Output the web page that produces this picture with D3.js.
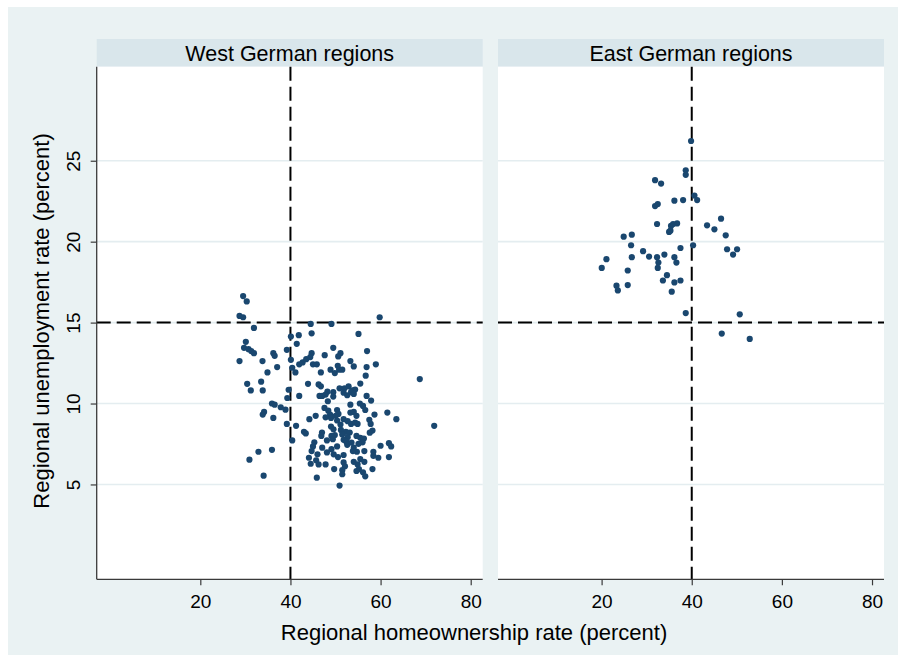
<!DOCTYPE html>
<html><head><meta charset="utf-8">
<script src="https://cdn.jsdelivr.net/npm/d3@7"></script>
<style>
body{margin:0;background:#fff}
svg{display:block}
text{font-family:"Liberation Sans",Arial,Helvetica,sans-serif;fill:#000}
</style>
</head><body>
<svg id="chart" width="906" height="662"></svg>
<script>
// ---------------- data ----------------
const panelTitles = ["West German regions", "East German regions"];
const xTickValues = [20, 40, 60, 80];
const yTickValues = [5, 10, 15, 20, 25];
const xRefLine = 40;   // homeownership reference (percent)
const yRefLine = 15;   // unemployment reference (percent)
const xTitle = "Regional homeownership rate (percent)";
const yTitle = "Regional unemployment rate (percent)";

// West German regions: [homeownership %, unemployment %]
const westPoints = [
 [29.5,16.64],[30.3,16.31],[28.7,15.41],[29.5,15.33],[31.9,14.67],[44.5,14.92],[40.1,14.14],[41.85,14.22],
 [44.7,14.34],[41.4,13.69],[30.1,13.81],[29.7,13.44],[30.7,13.36],[31.3,13.24],[31.9,13.11],[39.2,13.32],
 [47.6,12.99],[36.2,13.11],[36.5,12.95],[28.7,12.62],[33.8,12.62],[40.1,12.7],[44.7,13.11],[41.95,12.42],
 [42.7,12.54],[43.5,12.74],[44.4,12.87],[45.0,12.42],[45.85,12.42],[37.05,12.25],[40.4,12.21],[41.1,11.92],
 [34.9,11.92],[46.75,11.92],[30.4,11.22],[31.2,10.81],[33.5,11.35],[33.85,10.81],[39.6,10.85],[43.9,11.22],
 [46.25,11.18],[46.75,11.06],[48.2,10.73],
 [49.1,14.92],[59.8,15.33],[55.1,14.3],[49.5,13.44],[57.0,13.24],[51.1,13.11],[50.6,12.91],[53.3,12.62],
 [54.05,12.29],[58.95,12.42],[48.9,12.09],[49.85,11.88],[50.5,12.33],[50.8,12.09],[51.5,12.09],[56.7,11.72],
 [56.9,12.25],[55.5,11.23],[68.7,11.51],[50.9,10.94],[52.0,10.94],[52.9,11.06],[53.75,10.81],[54.35,10.86],
 [49.5,10.7],
 [41.95,10.47],[39.3,10.34],[35.9,10.0],[36.5,9.93],[37.85,9.77],[38.9,9.62],[34.15,9.48],[33.85,9.32],
 [36.2,9.11],[39.2,8.74],[41.25,8.62],[43.0,8.25],[43.4,8.15],[40.4,7.72],[32.9,7.02],[35.9,7.14],
 [30.9,6.53],[34.05,5.54],[45.85,5.42],[44.1,6.65],[44.5,6.28],[45.7,6.49],[46.25,6.24],[47.8,6.24],
 [45.3,7.6],[45.0,7.35],[44.7,7.06],[46.0,6.86],[47.0,8.21],[44.2,9.03],[45.6,9.24],[46.45,10.47],
 [47.05,10.47],[47.8,10.55],[47.55,9.73],[48.4,9.56],[48.8,9.32],[49.0,9.11],[47.8,9.15],[49.0,8.58],
 [49.1,8.0],[49.4,7.8],[48.1,7.72],[49.1,7.18],[49.6,6.86],[48.1,6.98],[47.05,7.27],[46.85,8.0],
 [49.7,5.95],[48.3,10.14],[49.5,10.43],
 [51.8,10.67],[52.6,10.51],[53.45,10.71],[54.05,10.59],[56.9,10.47],[57.9,10.18],[53.3,9.93],[55.4,10.0],
 [56.1,9.85],[56.6,9.6],[50.35,9.6],[50.65,9.36],[50.05,9.24],[61.5,9.44],[63.5,9.03],[71.9,8.62],
 [58.65,9.32],[53.3,9.44],[54.05,9.48],[54.65,9.24],[51.8,9.03],[52.7,8.91],[53.45,8.74],[54.35,8.82],
 [54.9,8.74],[57.5,8.99],[57.8,8.74],[58.2,8.33],[49.55,8.41],[49.85,8.05],[52.3,8.25],[53.15,8.21],
 [52.7,7.92],[51.8,7.76],[52.4,7.64],[54.65,8.0],[55.5,7.88],[56.3,7.84],[56.0,7.6],[55.1,7.51],
 [54.05,7.27],[54.75,7.02],[50.35,7.35],[60.0,7.39],[61.85,7.55],[62.35,7.35],[61.85,6.69],[58.4,7.02],
 [58.4,6.77],[59.5,6.65],[50.55,6.69],[51.8,6.82],[51.8,6.36],[52.1,6.12],[51.5,5.88],[51.5,5.63],
 [54.05,6.4],[54.9,6.24],[55.2,5.95],[56.1,5.75],[56.6,5.5],[54.65,5.83],[55.5,6.57],[56.4,6.4],
 [58.2,5.95],[50.9,4.93],[50.35,8.95],[51.1,8.7],[51.2,8.37],[51.5,8.09],[52.6,7.45],[53.55,7.59],
 [56.4,7.06],[53.85,7.06],[57.6,8.2]
];

// East German regions: [homeownership %, unemployment %]
const eastPoints = [
 [39.85,26.22],[38.67,24.41],[38.67,24.13],[31.86,23.8],[33.2,23.59],[40.6,22.85],[41.2,22.57],[36.15,22.53],
 [38.08,22.57],[31.86,22.2],[32.46,22.32],[32.3,21.09],[35.4,20.97],[35.86,21.09],[36.75,21.13],[34.97,20.6],
 [35.27,20.68],[43.4,21.01],[45.03,20.76],[46.5,21.42],[47.54,20.39],[24.9,20.31],[26.7,20.43],[26.54,19.78],
 [40.3,19.78],[37.5,19.61],[47.84,19.53],[50.06,19.53],[49.17,19.2],[29.2,19.41],[30.53,19.08],[32.3,19.04],
 [32.6,18.71],[32.46,18.38],[33.93,19.2],[36.15,19.04],[36.6,18.71],[26.7,19.04],[21.07,18.92],[20.03,18.38],
 [25.8,18.22],[34.5,17.93],[33.6,17.6],[36.15,17.48],[37.5,17.6],[35.56,16.91],[23.3,17.28],[23.6,16.99],
 [25.8,17.32],[38.67,15.59],[50.65,15.51],[46.66,14.32],[52.87,13.99]
];

// ---------------- layout ----------------
const W = 906, H = 662;
const bgColor = "#EAF2F3", headerColor = "#D9E6EB", dotColor = "#1A476F";
const panelLeft = [96.7, 498], panelW = 386;
const plotTop = 66.7, plotBottom = 579.3, headerTop = 39;

const svg = d3.select("#chart");
svg.append("rect").attr("x",0).attr("y",0).attr("width",W).attr("height",H).attr("fill","#fff");
svg.append("rect").attr("x",8).attr("y",7).attr("width",890).attr("height",648).attr("fill",bgColor);

const y = d3.scaleLinear().domain([-0.86, 30.81]).range([plotBottom, plotTop]);
const datasets = [westPoints, eastPoints];

panelTitles.forEach((title, i) => {
  const x0 = panelLeft[i];
  const x = d3.scaleLinear().domain([-2.99, 82.66]).range([x0, x0 + panelW]);
  const g = svg.append("g");

  // header
  g.append("rect").attr("x", x0).attr("y", headerTop).attr("width", panelW)
    .attr("height", plotTop - headerTop).attr("fill", headerColor);
  g.append("text").attr("x", x0 + panelW/2).attr("y", 60.5).attr("text-anchor","middle")
    .attr("font-size", 21.5).text(title);

  // plot area
  g.append("rect").attr("x", x0).attr("y", plotTop).attr("width", panelW)
    .attr("height", plotBottom - plotTop).attr("fill", "#fff");

  // gridlines
  g.selectAll(".grid").data(yTickValues).join("line")
    .attr("x1", x0).attr("x2", x0 + panelW)
    .attr("y1", d => y(d)).attr("y2", d => y(d))
    .attr("stroke", "#E4EDF0").attr("stroke-width", 1.6);

  // reference lines
  g.append("line").attr("x1", x0).attr("x2", x0 + panelW)
    .attr("y1", y(yRefLine)).attr("y2", y(yRefLine))
    .attr("stroke", "#000").attr("stroke-width", 2).attr("stroke-dasharray", "14,6");
  g.append("line").attr("x1", x(xRefLine)).attr("x2", x(xRefLine))
    .attr("y1", plotTop).attr("y2", plotBottom)
    .attr("stroke", "#000").attr("stroke-width", 2).attr("stroke-dasharray", "14,6");

  // points
  g.selectAll("circle").data(datasets[i]).join("circle")
    .attr("cx", d => x(d[0])).attr("cy", d => y(d[1])).attr("r", 3.1)
    .attr("fill", dotColor);

  // x axis
  const xAxis = d3.axisBottom(x).tickValues(xTickValues).tickSize(6).tickPadding(5)
    .tickFormat(d3.format("d"));
  const ax = g.append("g").attr("transform", `translate(0,${plotBottom})`).call(xAxis);
  ax.select(".domain").attr("stroke", "#3a3a3a").attr("stroke-width", 1.3)
    .attr("d", `M${x0},0H${x0 + panelW}`);
  ax.selectAll(".tick line").attr("stroke", "#3a3a3a").attr("stroke-width", 1.2);
  ax.selectAll(".tick text").attr("font-size", 19).attr("fill", "#000")
    .attr("font-family", '"Liberation Sans",Arial,sans-serif').attr("dy", null).attr("y", 28.7);

  // y axis on first panel only
  if (i === 0) {
    const yAxis = d3.axisLeft(y).tickValues(yTickValues).tickSize(6).tickFormat(d3.format("d"));
    const ay = g.append("g").attr("transform", `translate(${x0},0)`).call(yAxis);
    ay.select(".domain").attr("stroke", "#3a3a3a").attr("stroke-width", 1.3)
      .attr("d", `M0,${plotTop}V${plotBottom}`);
    ay.selectAll(".tick line").attr("stroke", "#3a3a3a").attr("stroke-width", 1.2);
    ay.selectAll(".tick text").attr("font-size", 19).attr("fill", "#000")
      .attr("font-family", '"Liberation Sans",Arial,sans-serif')
      .attr("x", null).attr("dy", null).attr("text-anchor", "middle")
      .attr("transform", "translate(-17,0) rotate(-90)");
  }
});

// axis titles
svg.append("text").attr("x", 474).attr("y", 640).attr("text-anchor", "middle")
  .attr("font-size", 22).text(xTitle);
svg.append("text").attr("transform", "translate(49,321) rotate(-90)").attr("text-anchor", "middle")
  .attr("font-size", 22).text(yTitle);
</script>
</body></html>
